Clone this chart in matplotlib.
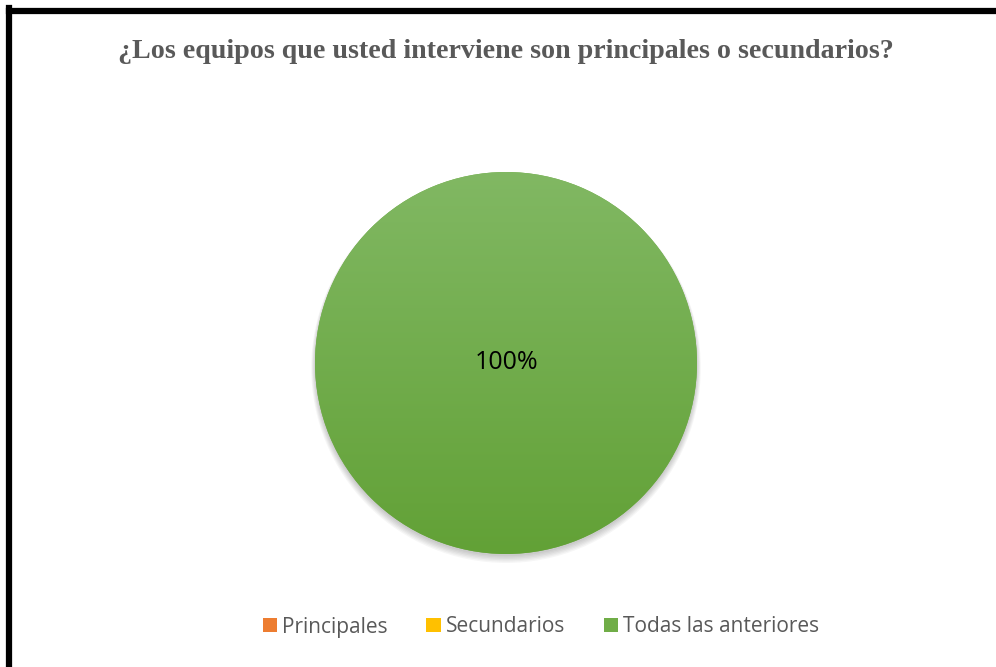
import numpy as np
import matplotlib
matplotlib.use('Agg')
import matplotlib.pyplot as plt
from matplotlib.colors import LinearSegmentedColormap
from matplotlib.patches import Patch, Circle
from matplotlib.lines import Line2D

title = "¿Los equipos que usted interviene son principales o secundarios?"
labels = ["Principales", "Secundarios", "Todas las anteriores"]
values = [0, 0, 100]
colors = ["#ED7D31", "#FFC000", "#70AD47"]
grad_top = ["#F4A36E", "#FFD24D", "#81B863"]
grad_bot = ["#E06C1E", "#F2B500", "#62A136"]

fig = plt.figure(figsize=(9.96, 6.67), dpi=100)

# frame lines (left and top only visible)
fig.add_artist(Line2D([9 / 996, 9 / 996], [0, 1 - 8 / 667], color='black', lw=4.5,
                      transform=fig.transFigure, solid_capstyle='projecting'))
fig.add_artist(Line2D([9 / 996, 1], [1 - 11 / 667, 1 - 11 / 667], color='black', lw=4.5,
                      transform=fig.transFigure, solid_capstyle='projecting'))

fig.text(506 / 996, 1 - 51 / 667, title, ha='center', va='center',
         fontsize=20.2, fontweight='bold', color='#595959', family='Liberation Serif')

cx, cy, r = 506, 363, 191
ax = fig.add_axes([(cx - r) / 996, 1 - (cy + r) / 667, 2 * r / 996, 2 * r / 667])

# soft shadow
for k in range(6):
    ax.add_patch(Circle((0.0, -0.012 - k * 0.003), 1.0 + 0.004 * k, color='black',
                        alpha=0.035, lw=0, zorder=0))

wedges, texts, autotexts = ax.pie(
    values, colors=colors, startangle=90, counterclock=False, radius=1,
    autopct=lambda p: f"{p:.0f}%" if p > 0 else "",
    pctdistance=0.0, textprops=dict(fontsize=18, color='black', family='Open Sans'),
    wedgeprops=dict(lw=0))
for t in texts:
    t.set_text("")

# vertical gradient inside each non-empty wedge
for w, v, top, bot in zip(wedges, values, grad_top, grad_bot):
    if v <= 0:
        continue
    cmap = LinearSegmentedColormap.from_list('g', [top, bot])
    grad = np.linspace(0, 1, 256).reshape(-1, 1)
    im = ax.imshow(grad, cmap=cmap, extent=[-1, 1, -1, 1], origin='upper',
                   aspect='auto', zorder=2)
    im.set_clip_path(w)
for a in autotexts:
    a.set_zorder(5)

ax.set_xlim(-1.05, 1.05)
ax.set_ylim(-1.05, 1.05)
ax.set_position([(cx - r * 1.05) / 996, 1 - (cy + r * 1.05) / 667,
                 2 * r * 1.05 / 996, 2 * r * 1.05 / 667])
ax.axis('off')

handles = [Patch(facecolor=c, edgecolor='none') for c in colors]
fig.legend(handles, labels, loc='center', bbox_to_anchor=(541 / 996, 1 - 627 / 667),
           ncol=3, frameon=False, handlelength=0.68, handleheight=0.68,
           handletextpad=0.25, columnspacing=1.85,
           prop=dict(family='Open Sans', size=15), labelcolor='#595959')

fig.savefig('out.png', dpi=100)
